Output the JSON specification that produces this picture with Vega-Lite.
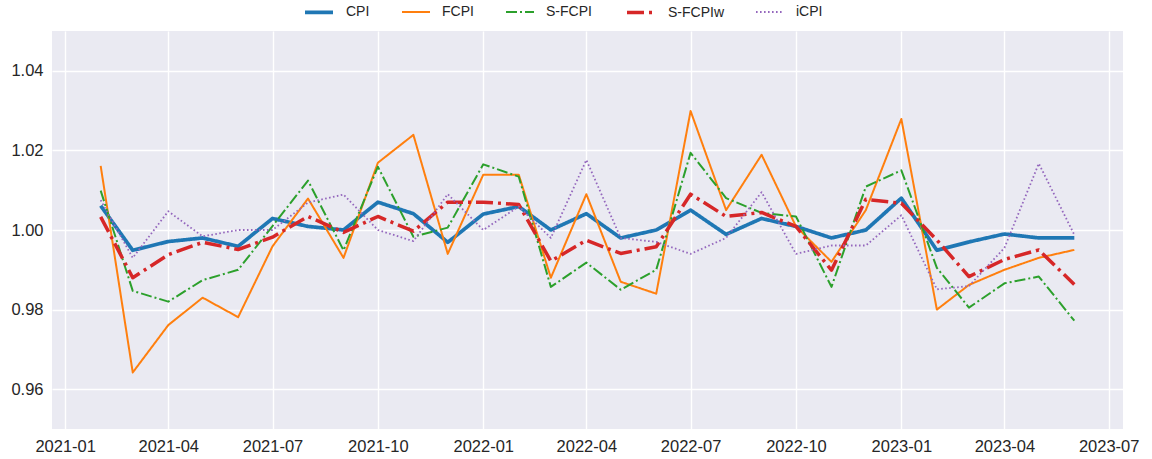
{
  "$schema": "https://vega.github.io/schema/vega-lite/v6.json",
  "width": 1071,
  "height": 398,
  "autosize": {"type": "none"},
  "padding": {"left": 52, "top": 31, "right": 29, "bottom": 30},
  "background": "white",
  "config": {
    "view": {"fill": "#EAEAF2", "stroke": null},
    "axis": {
      "domain": false,
      "ticks": false,
      "tickSize": 0,
      "grid": true,
      "gridColor": "white",
      "gridWidth": 1.4,
      "labelFont": "Liberation Sans",
      "labelFontSize": 16.5,
      "labelColor": "#262626",
      "labelPadding": 9,
      "labelFlush": false,
      "labelOverlap": false,
      "labelBound": false,
      "title": null
    },
    "legend": {
      "labelFont": "Liberation Sans",
      "labelFontSize": 14,
      "labelColor": "#262626"
    }
  },
  "data": {
    "values": [
      {"date": "2021-02-01", "series": "CPI", "value": 1.0061},
      {"date": "2021-03-01", "series": "CPI", "value": 0.9949},
      {"date": "2021-04-01", "series": "CPI", "value": 0.9971},
      {"date": "2021-05-01", "series": "CPI", "value": 0.9980},
      {"date": "2021-06-01", "series": "CPI", "value": 0.9959},
      {"date": "2021-07-01", "series": "CPI", "value": 1.0029},
      {"date": "2021-08-01", "series": "CPI", "value": 1.0009},
      {"date": "2021-09-01", "series": "CPI", "value": 1.0000},
      {"date": "2021-10-01", "series": "CPI", "value": 1.0070},
      {"date": "2021-11-01", "series": "CPI", "value": 1.0041},
      {"date": "2021-12-01", "series": "CPI", "value": 0.9969},
      {"date": "2022-01-01", "series": "CPI", "value": 1.0040},
      {"date": "2022-02-01", "series": "CPI", "value": 1.0059},
      {"date": "2022-03-01", "series": "CPI", "value": 1.0000},
      {"date": "2022-04-01", "series": "CPI", "value": 1.0041},
      {"date": "2022-05-01", "series": "CPI", "value": 0.9980},
      {"date": "2022-06-01", "series": "CPI", "value": 1.0000},
      {"date": "2022-07-01", "series": "CPI", "value": 1.0050},
      {"date": "2022-08-01", "series": "CPI", "value": 0.9989},
      {"date": "2022-09-01", "series": "CPI", "value": 1.0029},
      {"date": "2022-10-01", "series": "CPI", "value": 1.0009},
      {"date": "2022-11-01", "series": "CPI", "value": 0.9980},
      {"date": "2022-12-01", "series": "CPI", "value": 1.0000},
      {"date": "2023-01-01", "series": "CPI", "value": 1.0080},
      {"date": "2023-02-01", "series": "CPI", "value": 0.9949},
      {"date": "2023-03-01", "series": "CPI", "value": 0.9970},
      {"date": "2023-04-01", "series": "CPI", "value": 0.9990},
      {"date": "2023-05-01", "series": "CPI", "value": 0.9980},
      {"date": "2023-06-01", "series": "CPI", "value": 0.9980},

      {"date": "2021-02-01", "series": "FCPI", "value": 1.0161},
      {"date": "2021-03-01", "series": "FCPI", "value": 0.9642},
      {"date": "2021-04-01", "series": "FCPI", "value": 0.9761},
      {"date": "2021-05-01", "series": "FCPI", "value": 0.9830},
      {"date": "2021-06-01", "series": "FCPI", "value": 0.9781},
      {"date": "2021-07-01", "series": "FCPI", "value": 0.9959},
      {"date": "2021-08-01", "series": "FCPI", "value": 1.0079},
      {"date": "2021-09-01", "series": "FCPI", "value": 0.9930},
      {"date": "2021-10-01", "series": "FCPI", "value": 1.0169},
      {"date": "2021-11-01", "series": "FCPI", "value": 1.0239},
      {"date": "2021-12-01", "series": "FCPI", "value": 0.9940},
      {"date": "2022-01-01", "series": "FCPI", "value": 1.0139},
      {"date": "2022-02-01", "series": "FCPI", "value": 1.0139},
      {"date": "2022-03-01", "series": "FCPI", "value": 0.9880},
      {"date": "2022-04-01", "series": "FCPI", "value": 1.0090},
      {"date": "2022-05-01", "series": "FCPI", "value": 0.9870},
      {"date": "2022-06-01", "series": "FCPI", "value": 0.9840},
      {"date": "2022-07-01", "series": "FCPI", "value": 1.0299},
      {"date": "2022-08-01", "series": "FCPI", "value": 1.0050},
      {"date": "2022-09-01", "series": "FCPI", "value": 1.0189},
      {"date": "2022-10-01", "series": "FCPI", "value": 1.0009},
      {"date": "2022-11-01", "series": "FCPI", "value": 0.9920},
      {"date": "2022-12-01", "series": "FCPI", "value": 1.0050},
      {"date": "2023-01-01", "series": "FCPI", "value": 1.0279},
      {"date": "2023-02-01", "series": "FCPI", "value": 0.9800},
      {"date": "2023-03-01", "series": "FCPI", "value": 0.9862},
      {"date": "2023-04-01", "series": "FCPI", "value": 0.9900},
      {"date": "2023-05-01", "series": "FCPI", "value": 0.9930},
      {"date": "2023-06-01", "series": "FCPI", "value": 0.9950},

      {"date": "2021-02-01", "series": "S-FCPI", "value": 1.0099},
      {"date": "2021-03-01", "series": "S-FCPI", "value": 0.9847},
      {"date": "2021-04-01", "series": "S-FCPI", "value": 0.9820},
      {"date": "2021-05-01", "series": "S-FCPI", "value": 0.9874},
      {"date": "2021-06-01", "series": "S-FCPI", "value": 0.9900},
      {"date": "2021-07-01", "series": "S-FCPI", "value": 1.0010},
      {"date": "2021-08-01", "series": "S-FCPI", "value": 1.0124},
      {"date": "2021-09-01", "series": "S-FCPI", "value": 0.9949},
      {"date": "2021-10-01", "series": "S-FCPI", "value": 1.0159},
      {"date": "2021-11-01", "series": "S-FCPI", "value": 0.9983},
      {"date": "2021-12-01", "series": "S-FCPI", "value": 1.0006},
      {"date": "2022-01-01", "series": "S-FCPI", "value": 1.0165},
      {"date": "2022-02-01", "series": "S-FCPI", "value": 1.0134},
      {"date": "2022-03-01", "series": "S-FCPI", "value": 0.9857},
      {"date": "2022-04-01", "series": "S-FCPI", "value": 0.9918},
      {"date": "2022-05-01", "series": "S-FCPI", "value": 0.9850},
      {"date": "2022-06-01", "series": "S-FCPI", "value": 0.9900},
      {"date": "2022-07-01", "series": "S-FCPI", "value": 1.0194},
      {"date": "2022-08-01", "series": "S-FCPI", "value": 1.0080},
      {"date": "2022-09-01", "series": "S-FCPI", "value": 1.0043},
      {"date": "2022-10-01", "series": "S-FCPI", "value": 1.0034},
      {"date": "2022-11-01", "series": "S-FCPI", "value": 0.9857},
      {"date": "2022-12-01", "series": "S-FCPI", "value": 1.0109},
      {"date": "2023-01-01", "series": "S-FCPI", "value": 1.0150},
      {"date": "2023-02-01", "series": "S-FCPI", "value": 0.9905},
      {"date": "2023-03-01", "series": "S-FCPI", "value": 0.9805},
      {"date": "2023-04-01", "series": "S-FCPI", "value": 0.9866},
      {"date": "2023-05-01", "series": "S-FCPI", "value": 0.9883},
      {"date": "2023-06-01", "series": "S-FCPI", "value": 0.9772},

      {"date": "2021-02-01", "series": "S-FCPIw", "value": 1.0033},
      {"date": "2021-03-01", "series": "S-FCPIw", "value": 0.9880},
      {"date": "2021-04-01", "series": "S-FCPIw", "value": 0.9938},
      {"date": "2021-05-01", "series": "S-FCPIw", "value": 0.9969},
      {"date": "2021-06-01", "series": "S-FCPIw", "value": 0.9951},
      {"date": "2021-07-01", "series": "S-FCPIw", "value": 0.9982},
      {"date": "2021-08-01", "series": "S-FCPIw", "value": 1.0034},
      {"date": "2021-09-01", "series": "S-FCPIw", "value": 0.9994},
      {"date": "2021-10-01", "series": "S-FCPIw", "value": 1.0034},
      {"date": "2021-11-01", "series": "S-FCPIw", "value": 0.9997},
      {"date": "2021-12-01", "series": "S-FCPIw", "value": 1.0070},
      {"date": "2022-01-01", "series": "S-FCPIw", "value": 1.0070},
      {"date": "2022-02-01", "series": "S-FCPIw", "value": 1.0064},
      {"date": "2022-03-01", "series": "S-FCPIw", "value": 0.9922},
      {"date": "2022-04-01", "series": "S-FCPIw", "value": 0.9974},
      {"date": "2022-05-01", "series": "S-FCPIw", "value": 0.9941},
      {"date": "2022-06-01", "series": "S-FCPIw", "value": 0.9958},
      {"date": "2022-07-01", "series": "S-FCPIw", "value": 1.0090},
      {"date": "2022-08-01", "series": "S-FCPIw", "value": 1.0034},
      {"date": "2022-09-01", "series": "S-FCPIw", "value": 1.0044},
      {"date": "2022-10-01", "series": "S-FCPIw", "value": 1.0009},
      {"date": "2022-11-01", "series": "S-FCPIw", "value": 0.9899},
      {"date": "2022-12-01", "series": "S-FCPIw", "value": 1.0077},
      {"date": "2023-01-01", "series": "S-FCPIw", "value": 1.0067},
      {"date": "2023-02-01", "series": "S-FCPIw", "value": 0.9975},
      {"date": "2023-03-01", "series": "S-FCPIw", "value": 0.9883},
      {"date": "2023-04-01", "series": "S-FCPIw", "value": 0.9926},
      {"date": "2023-05-01", "series": "S-FCPIw", "value": 0.9950},
      {"date": "2023-06-01", "series": "S-FCPIw", "value": 0.9863},

      {"date": "2021-02-01", "series": "iCPI", "value": 1.0075},
      {"date": "2021-03-01", "series": "iCPI", "value": 0.9930},
      {"date": "2021-04-01", "series": "iCPI", "value": 1.0047},
      {"date": "2021-05-01", "series": "iCPI", "value": 0.9984},
      {"date": "2021-06-01", "series": "iCPI", "value": 1.0000},
      {"date": "2021-07-01", "series": "iCPI", "value": 1.0000},
      {"date": "2021-08-01", "series": "iCPI", "value": 1.0069},
      {"date": "2021-09-01", "series": "iCPI", "value": 1.0089},
      {"date": "2021-10-01", "series": "iCPI", "value": 1.0000},
      {"date": "2021-11-01", "series": "iCPI", "value": 0.9972},
      {"date": "2021-12-01", "series": "iCPI", "value": 1.0090},
      {"date": "2022-01-01", "series": "iCPI", "value": 1.0000},
      {"date": "2022-02-01", "series": "iCPI", "value": 1.0059},
      {"date": "2022-03-01", "series": "iCPI", "value": 0.9980},
      {"date": "2022-04-01", "series": "iCPI", "value": 1.0176},
      {"date": "2022-05-01", "series": "iCPI", "value": 0.9980},
      {"date": "2022-06-01", "series": "iCPI", "value": 0.9970},
      {"date": "2022-07-01", "series": "iCPI", "value": 0.9940},
      {"date": "2022-08-01", "series": "iCPI", "value": 0.9980},
      {"date": "2022-09-01", "series": "iCPI", "value": 1.0095},
      {"date": "2022-10-01", "series": "iCPI", "value": 0.9940},
      {"date": "2022-11-01", "series": "iCPI", "value": 0.9961},
      {"date": "2022-12-01", "series": "iCPI", "value": 0.9961},
      {"date": "2023-01-01", "series": "iCPI", "value": 1.0037},
      {"date": "2023-02-01", "series": "iCPI", "value": 0.9851},
      {"date": "2023-03-01", "series": "iCPI", "value": 0.9859},
      {"date": "2023-04-01", "series": "iCPI", "value": 0.9955},
      {"date": "2023-05-01", "series": "iCPI", "value": 1.0167},
      {"date": "2023-06-01", "series": "iCPI", "value": 0.9988}
    ]
  },
  "mark": {"type": "line", "strokeJoin": "round", "strokeCap": "butt"},
  "encoding": {
    "x": {
      "field": "date",
      "type": "temporal",
      "scale": {
        "type": "utc",
        "domain": [
          {"year": 2020, "month": 12, "date": 20, "hours": 12, "utc": true},
          {"year": 2023, "month": 7, "date": 13, "hours": 12, "utc": true}
        ]
      },
      "axis": {
        "format": "%Y-%m",
        "values": [
          {"year": 2021, "month": 1, "date": 1, "utc": true},
          {"year": 2021, "month": 4, "date": 1, "utc": true},
          {"year": 2021, "month": 7, "date": 1, "utc": true},
          {"year": 2021, "month": 10, "date": 1, "utc": true},
          {"year": 2022, "month": 1, "date": 1, "utc": true},
          {"year": 2022, "month": 4, "date": 1, "utc": true},
          {"year": 2022, "month": 7, "date": 1, "utc": true},
          {"year": 2022, "month": 10, "date": 1, "utc": true},
          {"year": 2023, "month": 1, "date": 1, "utc": true},
          {"year": 2023, "month": 4, "date": 1, "utc": true},
          {"year": 2023, "month": 7, "date": 1, "utc": true}
        ]
      }
    },
    "y": {
      "field": "value",
      "type": "quantitative",
      "scale": {"domain": [0.95, 1.05], "zero": false, "nice": false},
      "axis": {"values": [0.96, 0.98, 1.0, 1.02, 1.04], "format": ".2f"}
    },
    "color": {
      "field": "series",
      "type": "nominal",
      "scale": {
        "domain": ["CPI", "FCPI", "S-FCPI", "S-FCPIw", "iCPI"],
        "range": ["#1f77b4", "#ff7f0e", "#2ca02c", "#d62728", "#9467bd"]
      },
      "legend": {
        "title": null,
        "orient": "none",
        "direction": "horizontal",
        "legendX": 251,
        "legendY": -35,
        "symbolType": "stroke",
        "symbolSize": 784,
        "labelOffset": 11,
        "columnPadding": 28,
        "padding": 0
      }
    },
    "strokeDash": {
      "field": "series",
      "type": "nominal",
      "scale": {
        "domain": ["CPI", "FCPI", "S-FCPI", "S-FCPIw", "iCPI"],
        "range": [[1, 0], [1, 0], [11, 3, 2, 3], [17, 5, 3, 5], [1.6, 2.4]]
      },
      "legend": {
        "title": null,
        "orient": "none",
        "direction": "horizontal",
        "legendX": 251,
        "legendY": -35,
        "symbolType": "stroke",
        "symbolSize": 784,
        "labelOffset": 11,
        "columnPadding": 28,
        "padding": 0
      }
    },
    "strokeWidth": {
      "field": "series",
      "type": "nominal",
      "scale": {
        "type": "ordinal",
        "domain": ["CPI", "FCPI", "S-FCPI", "S-FCPIw", "iCPI"],
        "range": [3.7, 2, 2, 3.5, 1.8]
      },
      "legend": {
        "title": null,
        "orient": "none",
        "direction": "horizontal",
        "legendX": 251,
        "legendY": -35,
        "symbolType": "stroke",
        "symbolSize": 784,
        "labelOffset": 11,
        "columnPadding": 28,
        "padding": 0
      }
    }
  }
}
